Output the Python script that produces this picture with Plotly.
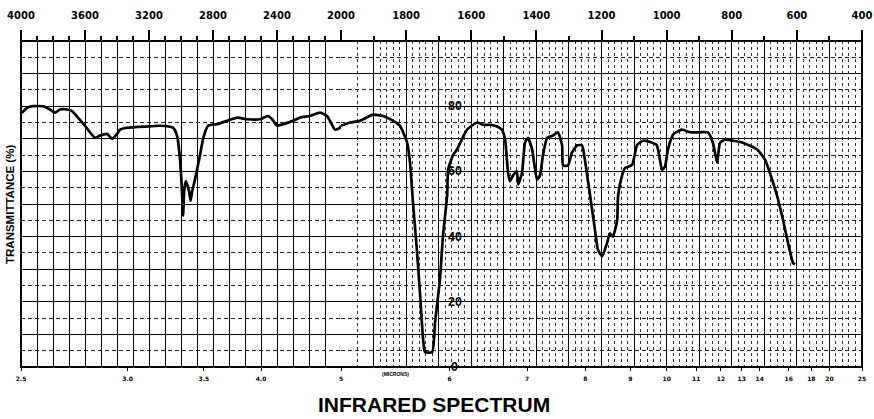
import plotly.graph_objects as go

# ---- data (wavenumber cm-1, transmittance %) ----
wavenumber = [3994, 3962, 3925, 3862, 3819, 3787, 3756, 3712, 3681, 3644, 3600, 3569, 3537,
              3506, 3462, 3431, 3400, 3381, 3337, 3200, 3131, 3050, 3025, 3006, 2994, 2987,
              2980, 2970, 2950, 2940, 2930, 2915, 2881, 2862, 2831, 2775, 2712, 2650, 2587,
              2506, 2456, 2430, 2400, 2362, 2300, 2256, 2194, 2131, 2087, 2037, 2006, 2000,
              1972, 1942, 1902, 1871, 1840, 1819, 1797, 1788, 1779, 1767, 1757, 1748, 1742,
              1720, 1711, 1696, 1687, 1674, 1671, 1656, 1644, 1613, 1582, 1564, 1542, 1521,
              1506, 1496, 1487, 1481, 1472, 1460, 1456, 1444, 1435, 1426, 1413, 1398, 1389,
              1380, 1367, 1349, 1334, 1321, 1318, 1303, 1291, 1275, 1260, 1251, 1235, 1220,
              1211, 1198, 1183, 1174, 1165, 1152, 1149, 1137, 1128, 1106, 1091, 1073, 1051,
              1030, 1014, 1005, 996, 980, 953, 928, 897, 873, 858, 845, 836, 821, 796, 766,
              722, 698, 683, 661, 643, 627, 612, 606]
transmittance = [78, 79.5, 80, 80, 79, 78, 79, 79, 78.5, 76.5, 74, 72, 70.3,
                 71, 71.5, 70, 71.5, 72.8, 73.4, 73.8, 74, 73.4, 71, 63.6, 54, 46.5,
                 54, 57, 54, 51, 54, 57, 65, 70, 74, 74.5, 75.5, 76.5, 76,
                 76, 77, 76, 74, 74.5, 75.5, 76.5, 77, 78, 77, 72.8, 73.4, 74,
                 75, 75.5, 77.4, 77, 75.5, 74, 68.8, 62.7, 50.5, 36, 22, 8.6, 4.6,
                 4.6, 13.8, 27, 40, 52.6, 60.5, 65, 66.7, 72.8, 75, 74.3, 74.3, 73.8,
                 72.8, 69.7, 59.6, 57, 58.7, 60, 56, 59.6, 68.8, 70.3, 66.7, 57.5, 58.7,
                 64.8, 70.3, 71, 72, 68, 61.8, 61.8, 65.7, 68, 68, 63.6, 52.6, 42,
                 36, 34, 38, 41, 40, 45, 52.6, 58.7, 61, 62, 68, 69.4, 69,
                 68, 60.5, 61.5, 66.7, 71.3, 72.8, 72, 72, 72, 68.8, 62.7, 68.8, 69.7, 69.4, 68.8,
                 66.7, 63.6, 59.6, 52.6, 45.3, 38, 32, 31.5]

top_ticks_left = [4000, 3600, 3200, 2800, 2400, 2000]
top_ticks_right = [1800, 1600, 1400, 1200, 1000, 800, 600, 400]
micron_left = [2.5, 3.0, 3.5, 4.0, 5]
micron_left_text = ["2.5", "3.0", "3.5", "4.0", "5"]
micron_right = [6, 7, 8, 9, 10, 11, 12, 13, 14, 16, 18, 20, 25]
micron_right_text = ["6", "7", "8", "9", "10", "11", "12", "13", "14", "16", "18", "20", "25"]
inside_labels = [80, 60, 40, 20, 0]

# ---- geometry ----
W, H = 874, 419
L, R, T, B = 21, 12, 41, 52
PW, PH = W - L - R, H - T - B
split = (341 - L) / PW


def px_x(px):
    return (px - L) / PW


def px_y(py):
    return (H - B - py) / PH


left = [(w, t) for w, t in zip(wavenumber, transmittance) if w >= 2000]
right = [(w, t) for w, t in zip(wavenumber, transmittance) if w <= 2000]
lx, ly = [p[0] for p in left], [p[1] for p in left]
rx, ry = [p[0] for p in right], [p[1] for p in right]

fig = go.Figure()
line = dict(color="black", width=2.7, shape="spline", smoothing=0.5)
fig.add_trace(go.Scatter(x=lx, y=ly, mode="lines", line=line, xaxis="x", yaxis="y",
                         hoverinfo="skip"))
fig.add_trace(go.Scatter(x=rx, y=ry, mode="lines", line=line, xaxis="x2", yaxis="y",
                         hoverinfo="skip"))
# invisible copies so the overlay (micron / fine grid) axes get drawn
ghost = dict(color="rgba(0,0,0,0)", width=0)
fig.add_trace(go.Scatter(x=lx, y=ly, mode="lines", line=ghost, xaxis="x3", yaxis="y",
                         hoverinfo="skip"))
fig.add_trace(go.Scatter(x=rx, y=ry, mode="lines", line=ghost, xaxis="x4", yaxis="y",
                         hoverinfo="skip"))
fig.add_trace(go.Scatter(x=rx, y=ry, mode="lines", line=ghost, xaxis="x5", yaxis="y",
                         hoverinfo="skip"))

tickfont_top = dict(family="DejaVu Sans", size=10, color="black", weight="bold")
tickfont_bot = dict(family="DejaVu Sans", size=6, color="black", weight="bold")

minor_left = [v for v in range(2100, 4000, 100) if v not in top_ticks_left]
minor_right = [v for v in range(500, 2000, 100) if v not in top_ticks_right]
dense_right = [v for v in range(420, 1900, 20) if v % 100 != 0] + [1950]

fig.update_layout(
    width=W, height=H,
    margin=dict(l=L, r=R, t=T, b=B, autoexpand=False),
    paper_bgcolor="white", plot_bgcolor="white",
    showlegend=False,
    xaxis=dict(domain=[0, split], range=[4000, 2000], side="top", anchor="y", automargin=False,
               tickmode="array", tickvals=top_ticks_left, ticks="outside", ticklen=10,
               tickwidth=1.5, tickcolor="black", tickfont=tickfont_top, ticklabelstandoff=7,
               ticklabeloverflow="allow",
               showgrid=True, gridcolor="black", gridwidth=1, zeroline=False,
               minor=dict(tickvals=minor_left, ticks="outside", ticklen=4, tickcolor="black",
                          showgrid=True, gridcolor="black", gridwidth=1)),
    xaxis2=dict(domain=[split, 1], range=[2000, 400], side="top", anchor="y", automargin=False,
                tickmode="array", tickvals=top_ticks_right, ticks="outside", ticklen=10,
                tickwidth=1.5, tickcolor="black", tickfont=tickfont_top, ticklabelstandoff=7,
                ticklabeloverflow="allow",
                showgrid=True, gridcolor="black", gridwidth=1, zeroline=False,
                minor=dict(tickvals=minor_right, ticks="outside", ticklen=4, tickcolor="black",
                           showgrid=True, gridcolor="black", gridwidth=1)),
    xaxis3=dict(overlaying="x", range=[4000, 2000], side="bottom", anchor="y", automargin=False,
                tickmode="array", tickvals=[10000 / m for m in micron_left],
                ticktext=micron_left_text, ticks="outside", ticklen=3, tickcolor="black",
                tickfont=tickfont_bot, showgrid=False, zeroline=False, ticklabelstandoff=3,
                ticklabeloverflow="allow"),
    xaxis4=dict(overlaying="x2", range=[2000, 400], side="bottom", anchor="y", automargin=False,
                tickmode="array", tickvals=[10000 / m for m in micron_right],
                ticktext=micron_right_text, ticks="outside", ticklen=3, tickcolor="black",
                tickfont=tickfont_bot, showgrid=False, zeroline=False, ticklabelstandoff=3,
                ticklabeloverflow="allow"),
    xaxis5=dict(overlaying="x2", range=[2000, 400], side="top", anchor="y", automargin=False,
                tickmode="array", tickvals=dense_right, ticks="", showticklabels=False,
                showgrid=True, gridcolor="#333", gridwidth=1, griddash="dot", zeroline=False),
    yaxis=dict(domain=[0, 1], range=[0, 100], anchor="x", showticklabels=False, ticks="",
               automargin=False,
               dtick=10, showgrid=True, gridcolor="black", gridwidth=1, zeroline=False,
               minor=dict(dtick=5, showgrid=True, gridcolor="#222", gridwidth=1,
                          griddash="4px,3px")),
    shapes=[dict(type="rect", xref="paper", yref="paper", x0=0, x1=1, y0=0, y1=1,
                 line=dict(color="black", width=2), layer="above")],
)

annotations = []
for v in inside_labels:
    annotations.append(dict(x=1650, y=v, xref="x2", yref="y", text=str(v), showarrow=False,
                            xanchor="center", yanchor="middle",
                            font=dict(family="Liberation Sans", size=12.5, color="black",
                                      weight="bold")))
annotations.append(dict(x=px_x(10), y=px_y(205), xref="paper", yref="paper",
                        text="TRANSMITTANCE (%)", textangle=-90, showarrow=False,
                        xanchor="center", yanchor="middle",
                        font=dict(family="Liberation Sans", size=11.5, color="black",
                                  weight="bold")))
annotations.append(dict(x=1834, y=px_y(374), xref="x2", yref="paper",
                        text="(MICRONS)", showarrow=False, xanchor="center", yanchor="middle",
                        font=dict(family="Liberation Sans", size=5, color="black",
                                  weight="bold")))
annotations.append(dict(x=px_x(434), y=px_y(404), xref="paper", yref="paper",
                        text="INFRARED SPECTRUM", showarrow=False,
                        xanchor="center", yanchor="middle",
                        font=dict(family="Liberation Sans", size=21, color="black",
                                  weight="bold")))
fig.update_layout(annotations=annotations)

fig.write_html("out.html", config={"displayModeBar": False},
               post_script="document.body.style.margin='0';document.body.style.overflow='hidden';")
